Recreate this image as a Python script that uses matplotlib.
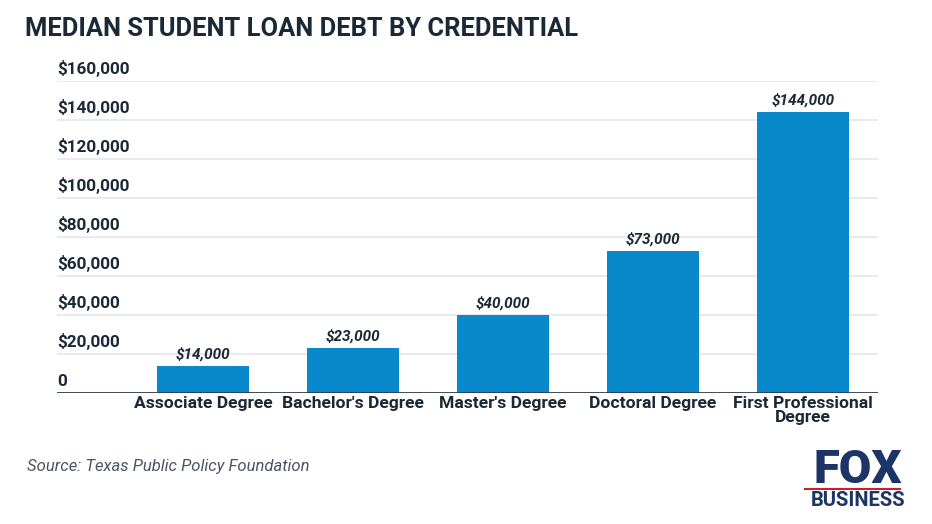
import matplotlib.pyplot as plt
from matplotlib.lines import Line2D

categories = ["Associate Degree", "Bachelor's Degree", "Master's Degree",
              "Doctoral Degree", "First Professional\nDegree"]
debt = [14000, 23000, 40000, 73000, 144000]
y_ticks = [0, 20000, 40000, 60000, 80000, 100000, 120000, 140000, 160000]

dark = '#1b2836'
blue = '#0a88cc'
narrow = ['Roboto', 'DejaVu Sans']

fig = plt.figure(figsize=(9.32, 5.24), dpi=100)
ax = fig.add_axes([57 / 932, 1 - 393 / 524, 821 / 932, 312 / 524])

x = list(range(len(categories)))
ax.bar(x, debt, width=0.61, color=blue, zorder=3)
ax.set_xlim(-0.973, 4.5)
ax.set_ylim(0, 160000)

# gridlines + y labels sitting above each line
for t in y_ticks:
    if t > 0:
        ax.axhline(t, color='#e4e6e8', lw=1.2, zorder=1)
    lab = '0' if t == 0 else '${:,}'.format(t)
    ax.text(-0.973, t + 2200, lab, ha='left', va='bottom', fontsize=12.3,
            fontweight='bold', color=dark, family=narrow)
ax.axhline(0, color='#2e3b48', lw=2, zorder=4)

for xi, v in zip(x, debt):
    ax.text(xi, v + 2200, '${:,}'.format(v), ha='center', va='bottom',
            fontsize=11, fontweight='bold', fontstyle='italic', color=dark,
            family=narrow)

ax.set_xticks(x)
ax.set_xticklabels(categories, fontsize=12.6, fontweight='bold', color=dark,
                   family=narrow, linespacing=0.95)
ax.tick_params(axis='x', length=0, pad=2)
ax.set_yticks([])
for s in ax.spines.values():
    s.set_visible(False)

fig.text(25 / 932, 1 - 29 / 524, 'MEDIAN STUDENT LOAN DEBT BY CREDENTIAL',
         ha='left', va='center', fontsize=18.4, fontweight='bold', color=dark,
         family=narrow)
fig.text(27 / 932, 1 - 467 / 524, 'Source: Texas Public Policy Foundation',
         ha='left', va='center', fontsize=12, fontstyle='italic',
         color='#4a5562', family=narrow)

# logo
navy = '#1c3566'
fig.text(858 / 932, 1 - 470 / 524, 'FOX', ha='center', va='center',
         fontsize=34, fontweight='heavy', color=navy, family=narrow)
fig.add_artist(Line2D([805 / 932, 900 / 932], [1 - 489 / 524, 1 - 489 / 524],
                      color='#c8202f', lw=1.5, transform=fig.transFigure))
fig.text(858 / 932, 1 - 500 / 524, 'BUSINESS', ha='center', va='center',
         fontsize=14.5, fontweight='bold', color=navy, family=narrow)

fig.savefig('out.png', dpi=100)
